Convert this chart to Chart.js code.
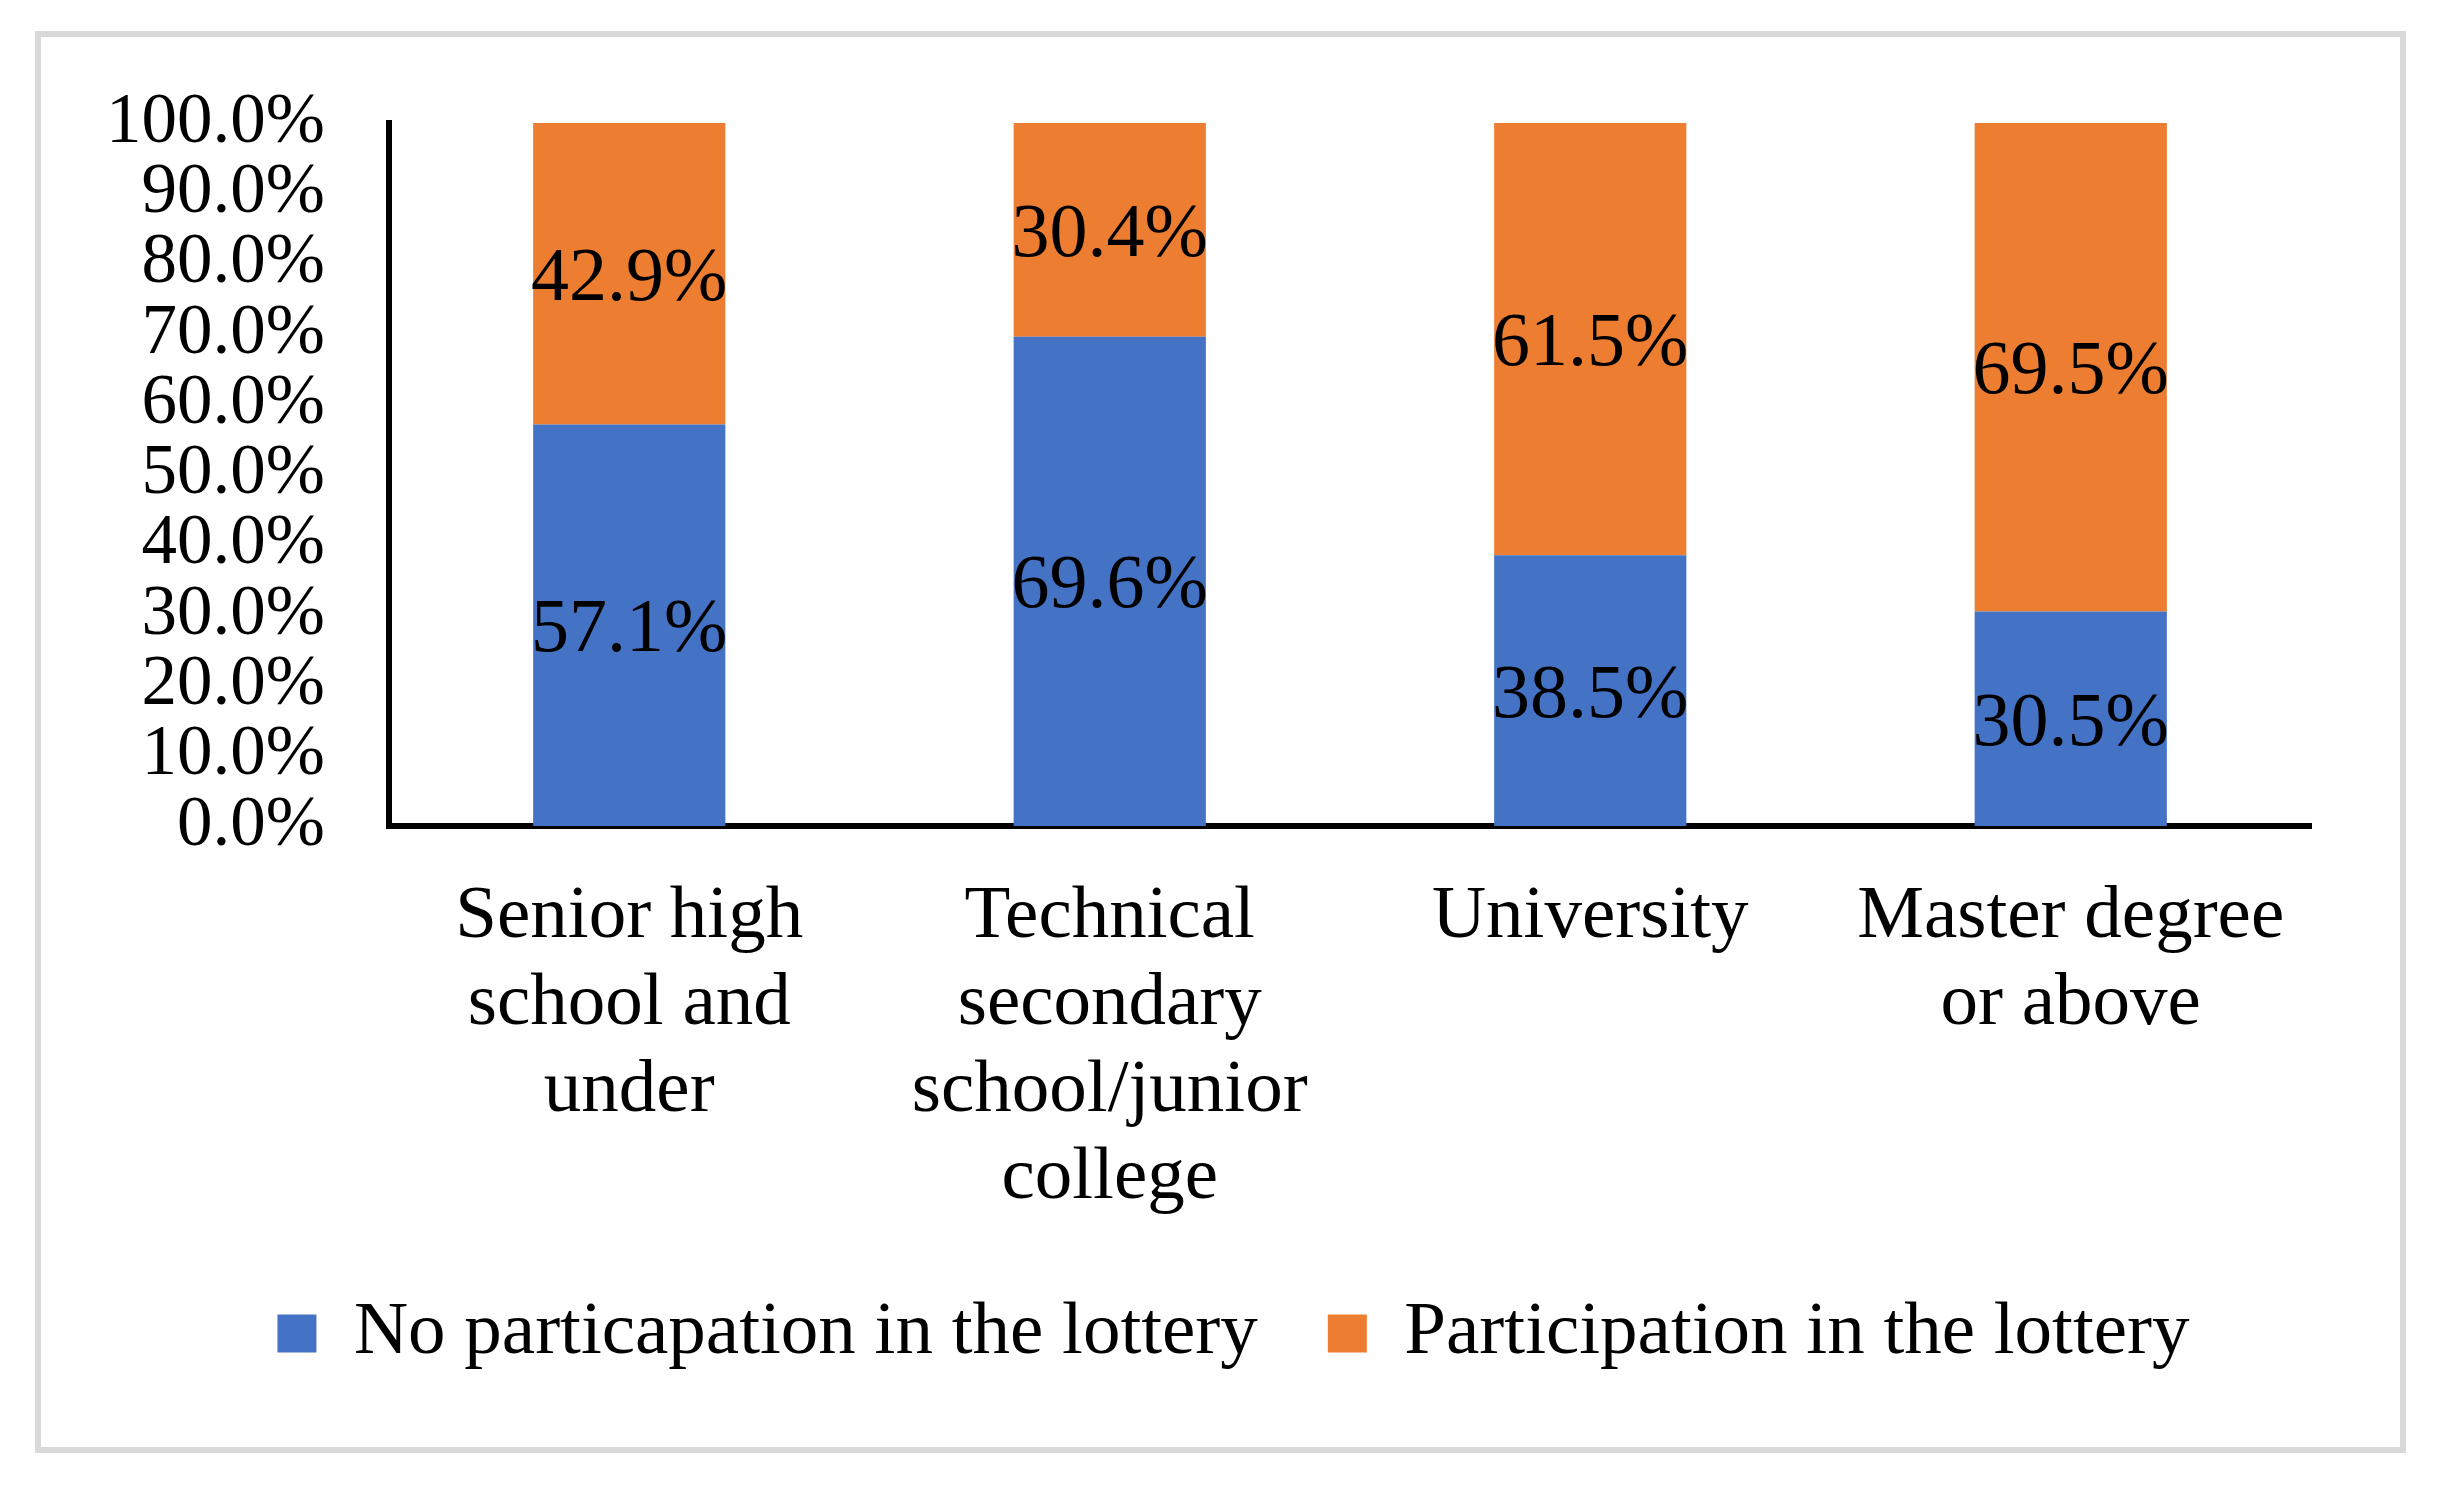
<!DOCTYPE html>
<html>
<head>
<meta charset="utf-8">
<title>Lottery participation by education</title>
<script src="https://cdn.jsdelivr.net/npm/chart.js@4.4.1/dist/chart.umd.min.js"></script>
<style>
  html, body { margin: 0; padding: 0; background: #fff; }
  #wrap { position: relative; width: 2447px; height: 1486px; }
  #frame {
    position: absolute; left: 35px; top: 31px; width: 2371px; height: 1422px;
    box-sizing: border-box; border: 6px solid #d9d9d9; pointer-events: none;
  }
  canvas { position: absolute; left: 0; top: 0; }
</style>
</head>
<body>
<div id="wrap">
  <canvas id="chart" width="2447" height="1486"></canvas>
  <div id="frame"></div>
</div>
<script>
// categories (multi-line labels as in the original)
const categories = [
    ['Senior high', 'school and', 'under'],
    ['Technical', 'secondary', 'school/junior', 'college'],
    ['University'],
    ['Master degree', 'or above']
];
const seriesNames = ['No particapation in the lottery', 'Participation in the lottery'];
const noParticipation = [57.1, 69.6, 38.5, 30.5];
const participation = [42.9, 30.4, 61.5, 69.5];
const yTicks = [0, 10, 20, 30, 40, 50, 60, 70, 80, 90, 100];

const SERIF = "'Liberation Serif', 'Times New Roman', serif";
Chart.defaults.font.family = SERIF;
Chart.defaults.color = '#000';

// draws the value label in the middle of every bar segment
const segmentLabels = {
    id: 'segmentLabels',
    afterDatasetsDraw(chart) {
        const ctx = chart.ctx;
        ctx.save();
        ctx.font = '76px ' + SERIF;
        ctx.fillStyle = '#000';
        ctx.textAlign = 'center';
        ctx.textBaseline = 'middle';
        chart.data.datasets.forEach((ds, i) => {
            const meta = chart.getDatasetMeta(i);
            meta.data.forEach((bar, j) => {
                const p = bar.getProps(['x', 'y', 'base'], true);
                ctx.fillText(ds.data[j].toFixed(1) + '%', p.x, (p.y + p.base) / 2 + 6);
            });
        });
        ctx.restore();
    }
};

new Chart(document.getElementById('chart'), {
    type: 'bar',
    data: {
        labels: categories,
        datasets: [{
            label: seriesNames[0],
            data: noParticipation,
            backgroundColor: '#4472c4'
        }, {
            label: seriesNames[1],
            data: participation,
            backgroundColor: '#ed7d31'
        }]
    },
    options: {
        responsive: false,
        devicePixelRatio: 1,
        animation: false,
        layout: { padding: { top: 123, left: 20, right: 0, bottom: 105 } },
        datasets: { bar: { categoryPercentage: 1, barPercentage: 0.4 } },
        plugins: {
            tooltip: { enabled: false },
            legend: {
                position: 'bottom',
                labels: {
                    font: { size: 75 },
                    boxWidth: 39,
                    boxHeight: 38,
                    padding: 70
                }
            }
        },
        scales: {
            x: {
                stacked: true,
                grid: { display: false, drawTicks: false },
                border: { display: true, color: '#000', width: 6 },
                ticks: {
                    font: { size: 75, lineHeight: 1.16 },
                    padding: 48,
                    autoSkip: false,
                    maxRotation: 0,
                    minRotation: 0
                },
                afterFit(scale) { scale.height = 400; }
            },
            y: {
                stacked: true,
                min: 0,
                max: 100,
                grid: { display: false, drawTicks: false },
                border: { display: true, color: '#000', width: 6 },
                afterBuildTicks(scale) { scale.ticks = yTicks.map(v => ({ value: v })); },
                ticks: {
                    font: { size: 71, lineHeight: 1 },
                    padding: 64,
                    autoSkip: false,
                    callback: v => v.toFixed(1) + '%'
                },
                afterFit(scale) { scale.width = 369; }
            },
            // empty right-hand axis that only reserves the space right of the plot
            yRight: {
                position: 'right',
                grid: { display: false, drawTicks: false },
                border: { display: false },
                ticks: { display: false },
                afterFit(scale) { scale.width = 136; }
            }
        }
    },
    plugins: [segmentLabels]
});
</script>
</body>
</html>
